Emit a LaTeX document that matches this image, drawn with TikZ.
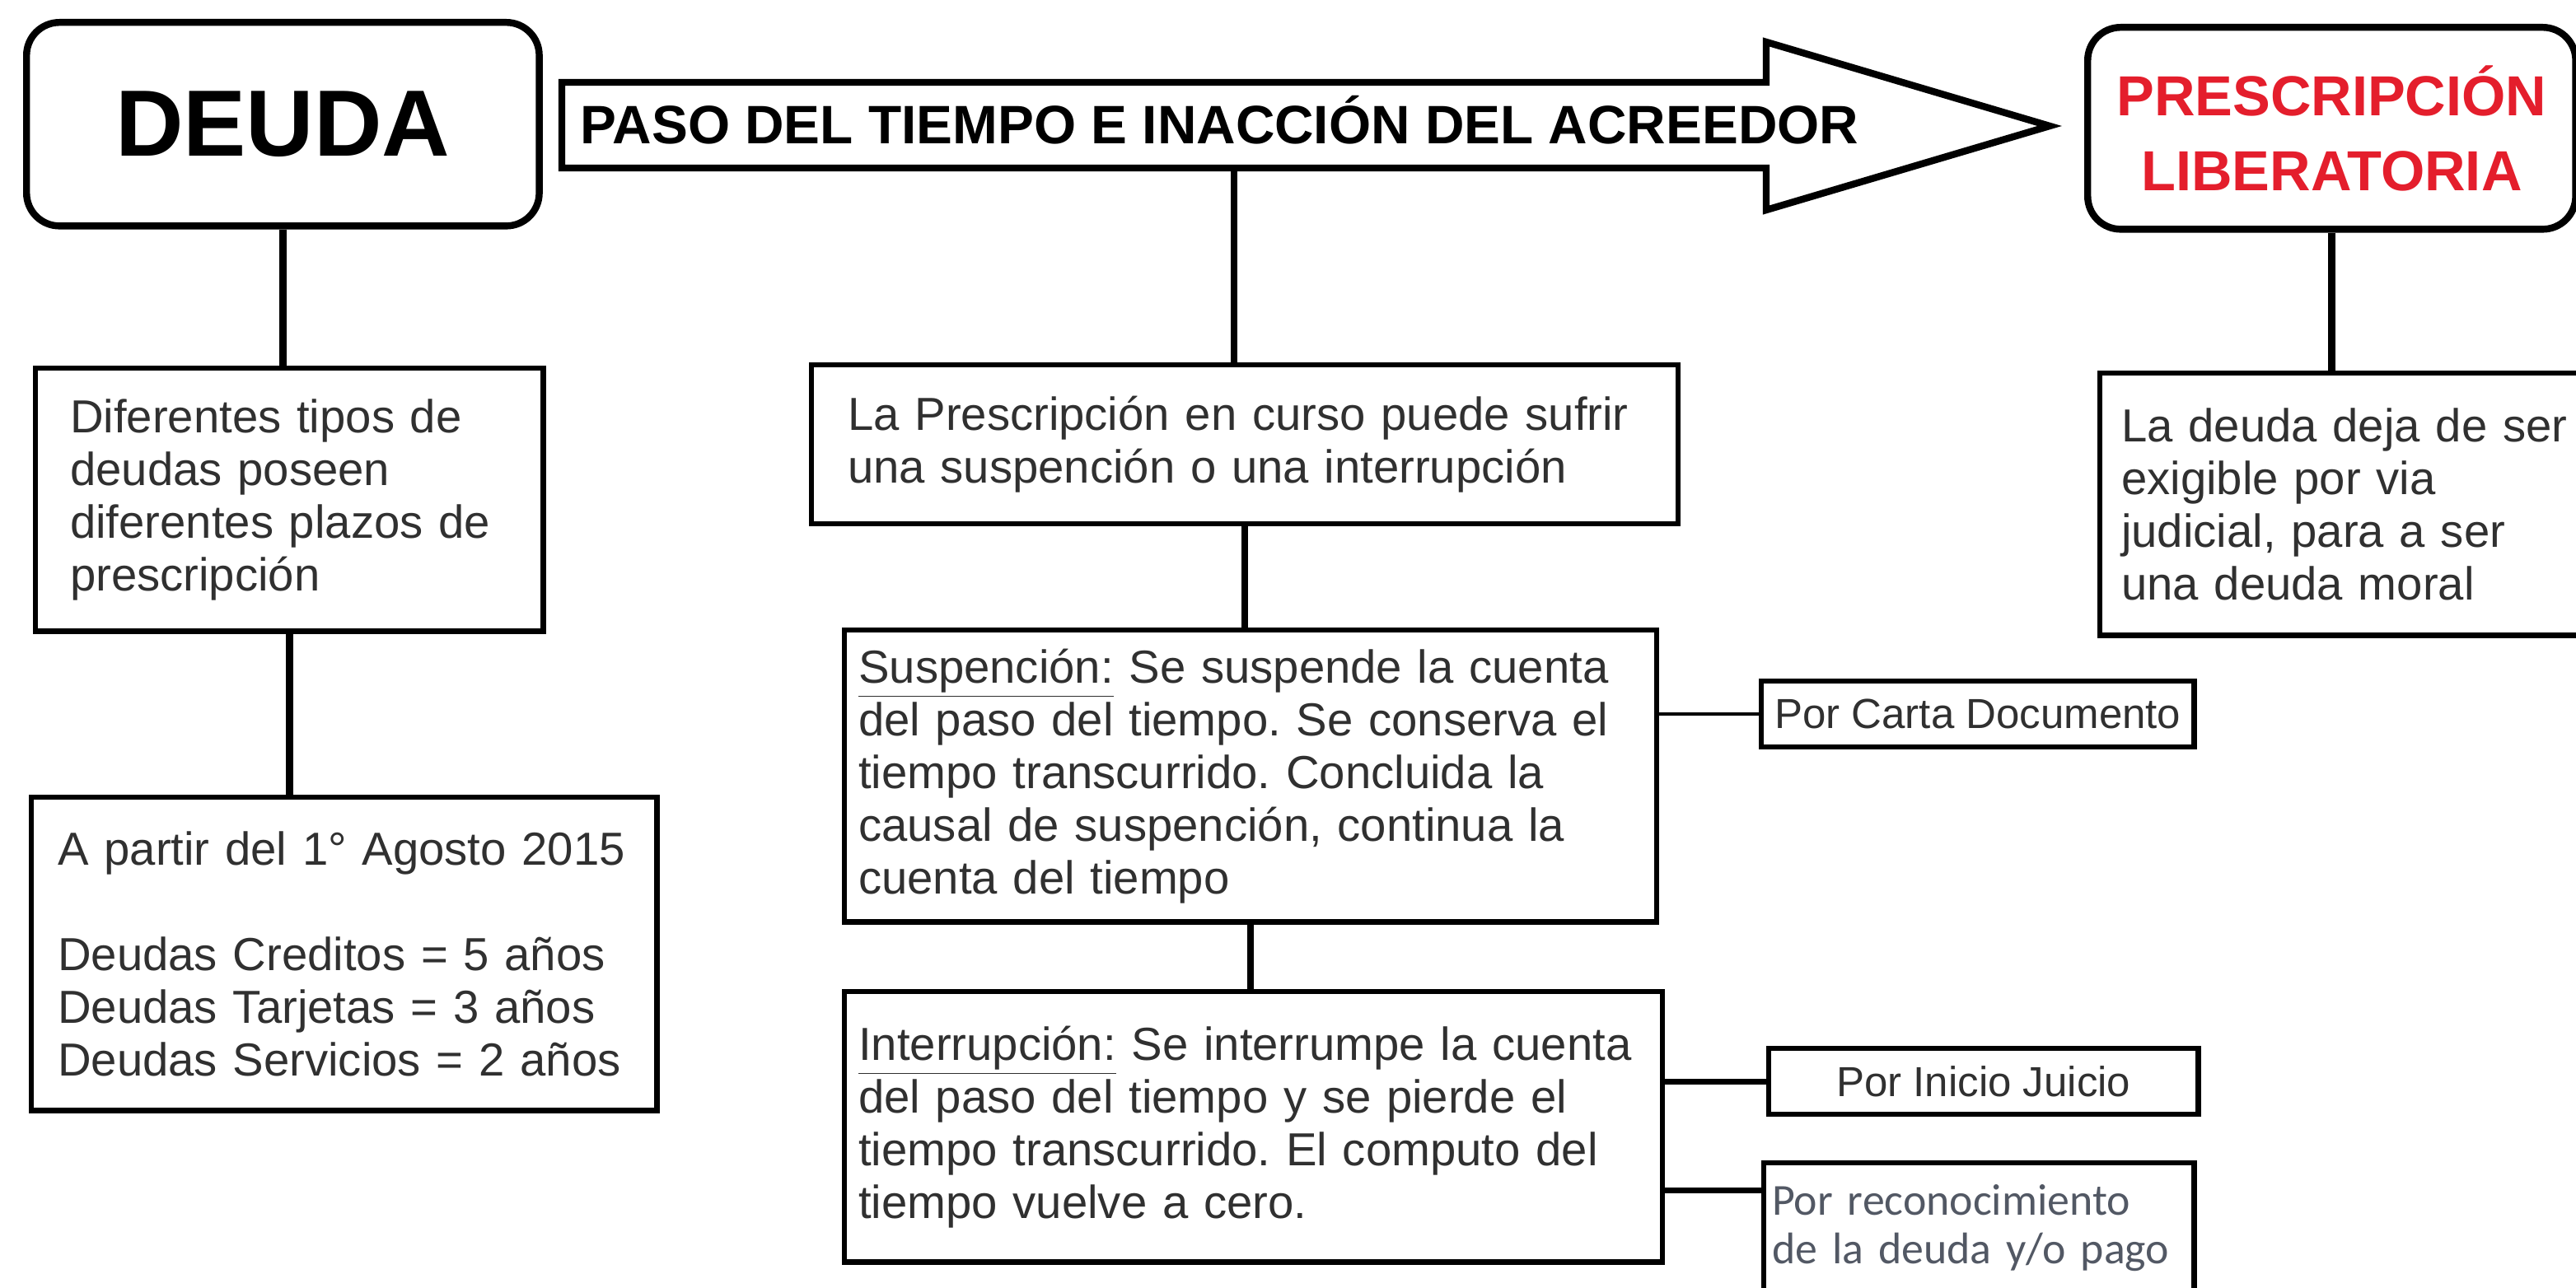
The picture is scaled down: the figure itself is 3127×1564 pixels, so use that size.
\documentclass[tikz,border=0pt]{standalone}
\usepackage{fontspec}
\setmainfont{Liberation Sans}
\newfontfamily\carlito{Carlito}
\usepackage{tikz}
\frenchspacing

\definecolor{rojo}{RGB}{228,30,44}
\definecolor{gristexto}{RGB}{48,48,48}
\definecolor{grisazul}{RGB}{82,88,100}

\begin{document}
\begin{tikzpicture}[x=0.01cm, y=-0.01cm,
	titulo/.style={draw, line width=2.4pt, rounded corners=4mm, anchor=north west, align=center, inner sep=0pt},
	caja/.style={draw, line width=1.8pt, anchor=north west, align=left, inner ysep=0pt, text=gristexto, font=\fontsize{16}{18.2}\selectfont},
	causa/.style={draw, line width=1.8pt, anchor=north west, align=center, inner sep=0pt, text=gristexto, font=\fontsize{14.5}{17}\selectfont},
	conector/.style={line width=2.4pt}]
	\useasboundingbox (0,0) rectangle (3127,1564);
	\clip (0,0) rectangle (3127,1564);
	\node[titulo, minimum width=6.22cm, minimum height=2.47cm, font=\bfseries\fontsize{32.5}{36}\selectfont] (deuda) at (28,23) {DEUDA};
	\node[titulo, minimum width=5.92cm, minimum height=2.45cm, text=rojo, font=\bfseries\fontsize{19.5}{25.8}\selectfont] (prescripcion) at (2530,29) {PRESCRIPCIÓN\\LIBERATORIA};
	\draw[line width=2.4pt] (682,100) -- (2144,100) -- (2144,51) -- (2488,153) -- (2144,255) -- (2144,204) -- (682,204) -- cycle;
	\node[anchor=base west, inner sep=0pt, font=\bfseries\fontsize{18.7}{22}\selectfont] (paso) at (704,175) {PASO DEL TIEMPO E INACCIÓN DEL ACREEDOR};
	\coordinate (pasobase) at (1498,204);
	\node[caja, inner xsep=4.2mm, text width=5.32cm, minimum height=3.19cm] (tipos) at (40,444) {Diferentes tipos de\\deudas poseen\\diferentes plazos de\\prescripción};
	\node[caja, inner xsep=3.2mm, text width=6.95cm, minimum height=3.80cm] (plazos) at (35,965) {A partir del 1° Agosto 2015\\[18.2pt]Deudas Creditos = 5 años\\Deudas Tarjetas = 3 años\\Deudas Servicios = 2 años};
	\node[caja, inner xsep=4.4mm, text width=9.63cm, minimum height=1.93cm] (curso) at (982,440) {La Prescripción en curso puede sufrir\\una suspención o una interrupción};
	\node[caja, inner xsep=1.7mm, text width=9.51cm, minimum height=3.54cm] (suspension) at (1022,762) {\underline{Suspención:} Se suspende la cuenta\\del paso del tiempo. Se conserva el\\tiempo transcurrido. Concluida la\\causal de suspención, continua la\\cuenta del tiempo};
	\node[caja, inner xsep=1.7mm, text width=9.58cm, minimum height=3.28cm] (interrupcion) at (1022,1201) {\underline{Interrupción:} Se interrumpe la cuenta\\del paso del tiempo y se pierde el\\tiempo transcurrido. El computo del\\tiempo vuelve a cero.};
	\node[caja, inner xsep=2.6mm, text width=5.48cm, minimum height=3.18cm] (exigible) at (2546,450) {La deuda deja de ser\\exigible por via\\judicial, para a ser\\una deuda moral};
	\node[causa, minimum width=5.25cm, minimum height=0.80cm] (carta) at (2135,824) {Por Carta Documento};
	\node[causa, minimum width=5.21cm, minimum height=0.80cm] (juicio) at (2144,1270) {Por Inicio Juicio};
	\node[caja, inner xsep=1mm, text width=5.02cm, minimum height=1.58cm, text=grisazul, font=\carlito\fontsize{15.3}{16.8}\selectfont] (reconocimiento) at (2138,1409) {Por reconocimiento\\\mbox{de la deuda y/o pago}};
	\coordinate (recon-in) at ([yshift=-3.6mm]reconocimiento.north west);
	\draw[conector] (deuda.south) -- (deuda.south |- tipos.north);
	\draw[conector] (tipos.south) -- (tipos.south |- plazos.north);
	\draw[conector] (pasobase) -- (pasobase |- curso.north);
	\draw[conector] (curso.south) -- (curso.south |- suspension.north);
	\draw[conector] (suspension.south) -- (suspension.south |- interrupcion.north);
	\draw[conector] (prescripcion.south) -- (prescripcion.south |- exigible.north);
	\draw[line width=1.2pt] (suspension.east |- carta.west) -- (carta.west);
	\draw[line width=2pt] (interrupcion.east |- juicio.west) -- (juicio.west);
	\draw[line width=2pt] (interrupcion.east |- recon-in) -- (recon-in);
\end{tikzpicture}
\end{document}
